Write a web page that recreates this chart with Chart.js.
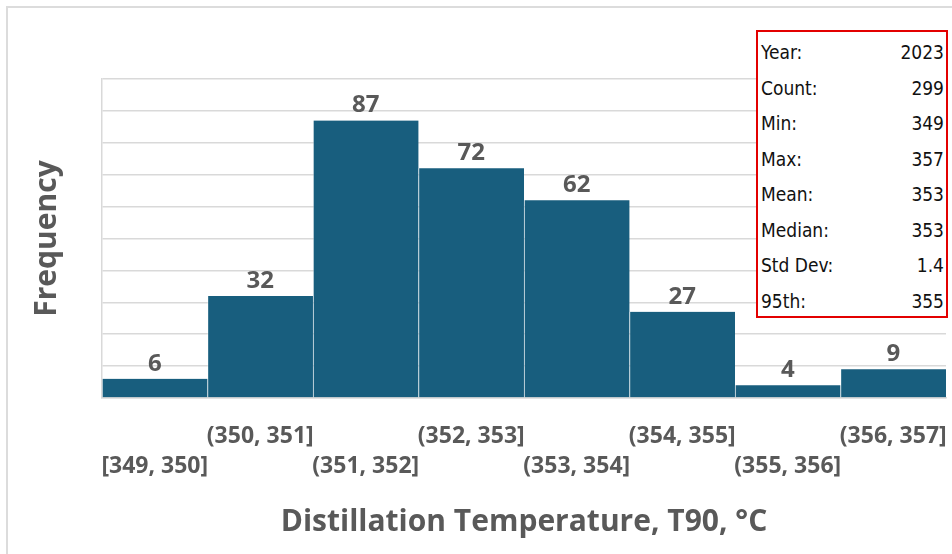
<!DOCTYPE html>
<html>
<head>
<meta charset="utf-8">
<script src="https://cdn.jsdelivr.net/npm/chart.js@4.4.1/dist/chart.umd.min.js"></script>
<style>
  html, body { margin: 0; padding: 0; background: #fff; }
  #wrap { position: relative; width: 952px; height: 554px; overflow: hidden; }
  #frame { position: absolute; left: 6px; top: 6px; width: 960px; height: 560px;
           border-top: 2px solid #dcdcdc; border-left: 2px solid #dcdcdc; box-sizing: border-box; }
  #stats { position: absolute; left: 756px; top: 30px; width: 192px; height: 288px;
           border: 2px solid #e30000; background: #fff; box-sizing: border-box;
           font-family: "Liberation Sans Narrow", "DejaVu Sans Condensed", sans-serif;
           font-size: 19px; color: #111; padding: 3px 2px 0 3px; }
  #stats div { display: flex; justify-content: space-between; height: 35.5px; line-height: 35.5px; }
  canvas { position: absolute; left: 0; top: 0; }
</style>
</head>
<body>
<div id="wrap">
  <div id="frame"></div>
  <canvas id="histChart" width="952" height="554"></canvas>
  <div id="stats"></div>
</div>
<script>
// Histogram data
var binLabels = ['[349, 350]', '(350, 351]', '(351, 352]', '(352, 353]',
                 '(353, 354]', '(354, 355]', '(355, 356]', '(356, 357]'];
var frequencies = [6, 32, 87, 72, 62, 27, 4, 9];

// Summary box
var statLabels = ['Year:', 'Count:', 'Min:', 'Max:', 'Mean:', 'Median:', 'Std Dev:', '95th:'];
var statValues = ['2023', '299', '349', '357', '353', '353', '1.4', '355'];

var statsBox = document.getElementById('stats');
statLabels.forEach(function (lab, i) {
    var row = document.createElement('div');
    var a = document.createElement('span');
    var b = document.createElement('span');
    a.textContent = lab;
    b.textContent = statValues[i];
    row.appendChild(a);
    row.appendChild(b);
    statsBox.appendChild(row);
});

var textGray = '#595959';

// value labels above each bar
var barValueLabels = {
    id: 'barValueLabels',
    afterDatasetsDraw: function (chart) {
        var ctx = chart.ctx;
        var meta = chart.getDatasetMeta(0);
        ctx.save();
        ctx.font = 'bold 24px "Open Sans"';
        ctx.fillStyle = textGray;
        ctx.textAlign = 'center';
        ctx.textBaseline = 'middle';
        meta.data.forEach(function (bar, i) {
            ctx.fillText(frequencies[i], bar.x, bar.y - 15);
        });
        ctx.restore();
    }
};

var ctxHist = document.getElementById('histChart').getContext('2d');
var histChart = new Chart(ctxHist, {
    type: 'bar',
    data: {
        labels: binLabels,
        datasets: [{
            data: frequencies,
            backgroundColor: '#185e7e',
            borderColor: 'rgba(255, 255, 255, 0.35)',
            borderWidth: { left: 1, right: 0, top: 0, bottom: 0 },
            borderSkipped: false,
            categoryPercentage: 1.0,
            barPercentage: 1.0
        }]
    },
    options: {
        responsive: false,
        animation: false,
        layout: { padding: { top: 79, right: 6, left: 0, bottom: 0 } },
        plugins: {
            legend: { display: false },
            tooltip: { enabled: false }
        },
        scales: {
            x: {
                grid: { display: false, drawTicks: false },
                border: { display: true, color: '#d9d9d9', width: 1.5 },
                ticks: {
                    autoSkip: false,
                    maxRotation: 0,
                    minRotation: 0,
                    padding: 24,
                    color: textGray,
                    font: { family: 'Open Sans', weight: 'bold', size: 23, lineHeight: 1.3 },
                    callback: function (val, i) {
                        return i % 2 === 0 ? ['', binLabels[i]] : [binLabels[i], ''];
                    }
                },
                title: {
                    display: true,
                    text: 'Distillation Temperature, T90, °C',
                    color: textGray,
                    font: { family: 'Open Sans', weight: 'bold', size: 30, lineHeight: 1.2 },
                    padding: { top: 0, bottom: 14 }
                },
                afterFit: function (scale) {
                    scale.height = 156;
                    scale.paddingLeft = 0;
                    scale.paddingRight = 0;
                }
            },
            y: {
                min: 0,
                max: 100,
                ticks: { stepSize: 10, display: false },
                grid: { color: '#d9d9d9', lineWidth: 1.5, drawTicks: false },
                border: { display: true, color: '#d9d9d9', width: 1.5 },
                title: {
                    display: true,
                    text: 'Frequency',
                    color: textGray,
                    font: { family: 'Open Sans', weight: 'bold', size: 30, lineHeight: 1.2 },
                    padding: { top: 29, bottom: 0 }
                },
                afterFit: function (scale) { scale.width = 102; }
            }
        }
    },
    plugins: [barValueLabels]
});
</script>
</body>
</html>
